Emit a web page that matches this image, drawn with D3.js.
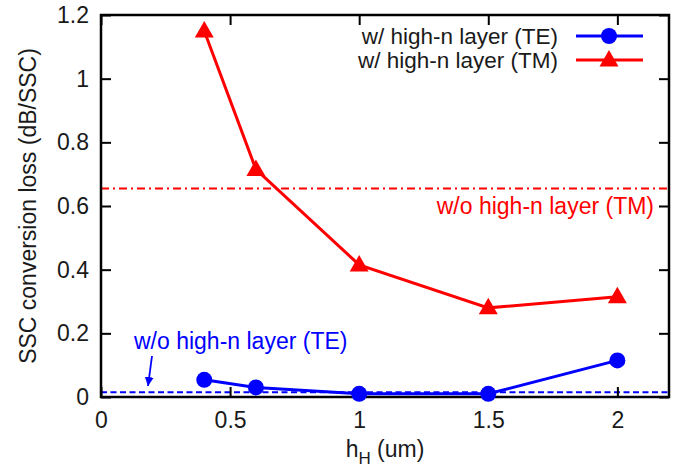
<!DOCTYPE html>
<html><head><meta charset="utf-8">
<script src="https://cdn.jsdelivr.net/npm/d3@7"></script>
<style>body{margin:0;background:#fff;}svg{display:block;font-family:"Liberation Sans",Arial,sans-serif;}</style>
</head><body>
<svg id="c" width="682" height="469"></svg>
<script>
const hH = [0.4, 0.6, 1.0, 1.5, 2.0];
const lossTE = [0.054, 0.03, 0.01, 0.01, 0.115];
const lossTM = [1.15, 0.715, 0.415, 0.28, 0.315];
const refTE = 0.015;
const refTM = 0.655;
const xTicks = [0, 0.5, 1, 1.5, 2];
const yTicks = [0, 0.2, 0.4, 0.6, 0.8, 1, 1.2];

const svg = d3.select("#c");
const L = 101, R = 669, T = 15, B = 397;
const x = d3.scaleLinear().domain([0, 2.2]).range([L, R]);
const y = d3.scaleLinear().domain([0, 1.2]).range([B, T]);
const FS = 23;
const blue = "#0000ff", red = "#ff0000", ink = "#1a1a1a";

// reference lines
svg.append("line").attr("x1", L).attr("x2", R).attr("y1", y(refTM)).attr("y2", y(refTM))
  .attr("stroke", red).attr("stroke-width", 2).attr("stroke-dasharray", "8,4,2,4");
svg.append("line").attr("x1", L).attr("x2", R).attr("y1", y(refTE)).attr("y2", y(refTE))
  .attr("stroke", blue).attr("stroke-width", 2).attr("stroke-dasharray", "6,3.5");

// axes
const fmt = d => String(d);
const ax = svg.append("g").attr("transform", `translate(0,${B})`)
  .call(d3.axisBottom(x).tickValues(xTicks).tickSize(-10).tickPadding(15).tickFormat(fmt));
const axT = svg.append("g").attr("transform", `translate(0,${T})`)
  .call(d3.axisTop(x).tickValues(xTicks).tickSize(-10).tickFormat(""));
const ay = svg.append("g").attr("transform", `translate(${L},0)`)
  .call(d3.axisLeft(y).tickValues(yTicks).tickSize(-10).tickPadding(12).tickFormat(fmt));
const ayR = svg.append("g").attr("transform", `translate(${R},0)`)
  .call(d3.axisRight(y).tickValues(yTicks).tickSize(-10).tickFormat(""));
[ax, axT, ay, ayR].forEach(g => {
  g.select(".domain").remove();
  g.selectAll(".tick line").attr("stroke", "#000").attr("stroke-width", 2);
  g.selectAll(".tick text").attr("font-size", FS).attr("fill", ink).attr("font-family", "Liberation Sans, Arial, sans-serif");
});
svg.append("rect").attr("x", L).attr("y", T).attr("width", R - L).attr("height", B - T)
  .attr("fill", "none").attr("stroke", "#000").attr("stroke-width", 2.5);

// series
const line = d3.line().x(d => x(d[0])).y(d => y(d[1]));
const te = hH.map((h, i) => [h, lossTE[i]]);
const tm = hH.map((h, i) => [h, lossTM[i]]);
svg.append("path").datum(te).attr("d", line).attr("fill", "none").attr("stroke", blue).attr("stroke-width", 3);
svg.append("path").datum(tm).attr("d", line).attr("fill", "none").attr("stroke", red).attr("stroke-width", 3);
svg.selectAll(".pte").data(te).enter().append("circle")
  .attr("cx", d => x(d[0])).attr("cy", d => y(d[1])).attr("r", 8).attr("fill", blue);
const tri = "M0,-10L9.5,6.5L-9.5,6.5Z";
svg.selectAll(".ptm").data(tm).enter().append("path")
  .attr("d", tri).attr("transform", d => `translate(${x(d[0])},${y(d[1])})`).attr("fill", red);

// legend
const lg = [["w/ high-n layer (TE)", blue, "c"], ["w/ high-n layer (TM)", red, "t"]];
lg.forEach((d, i) => {
  const yy = 36 + i * 24;
  svg.append("text").attr("x", 558).attr("y", yy + 8).attr("text-anchor", "end")
    .attr("font-size", 22.5).attr("fill", ink).text(d[0]);
  svg.append("line").attr("x1", 576).attr("x2", 643).attr("y1", yy).attr("y2", yy)
    .attr("stroke", d[1]).attr("stroke-width", 3);
  if (d[2] === "c") svg.append("circle").attr("cx", 609).attr("cy", yy).attr("r", 8).attr("fill", d[1]);
  else svg.append("path").attr("d", tri).attr("transform", `translate(609,${yy})`).attr("fill", d[1]);
});

// annotations
svg.append("text").attr("x", 654).attr("y", y(refTM) + 26).attr("text-anchor", "end")
  .attr("font-size", FS).attr("fill", red).text("w/o high-n layer (TM)");
svg.append("text").attr("x", 134).attr("y", 349).attr("font-size", FS).attr("fill", blue).text("w/o high-n layer (TE)");
svg.append("defs").append("marker").attr("id", "ah").attr("viewBox", "0 0 10 10").attr("refX", 10).attr("refY", 5)
  .attr("markerWidth", 5).attr("markerHeight", 5).attr("orient", "auto")
  .append("path").attr("d", "M0,0L10,5L0,10z").attr("fill", blue);
svg.append("line").attr("x1", 152).attr("y1", 356).attr("x2", 148).attr("y2", 386)
  .attr("stroke", blue).attr("stroke-width", 1.8).attr("marker-end", "url(#ah)");

// axis titles
const xt = svg.append("text").attr("x", 385).attr("y", 457).attr("text-anchor", "middle")
  .attr("font-size", FS).attr("fill", ink);
xt.append("tspan").text("h");
xt.append("tspan").attr("dy", 7).attr("font-size", 17).text("H");
xt.append("tspan").attr("dy", -7).text(" (um)");
svg.append("text").attr("transform", `translate(36,${(T + B) / 2}) rotate(-90)`).attr("text-anchor", "middle")
  .attr("font-size", FS).attr("fill", ink).text("SSC conversion loss (dB/SSC)");
</script>
</body></html>
